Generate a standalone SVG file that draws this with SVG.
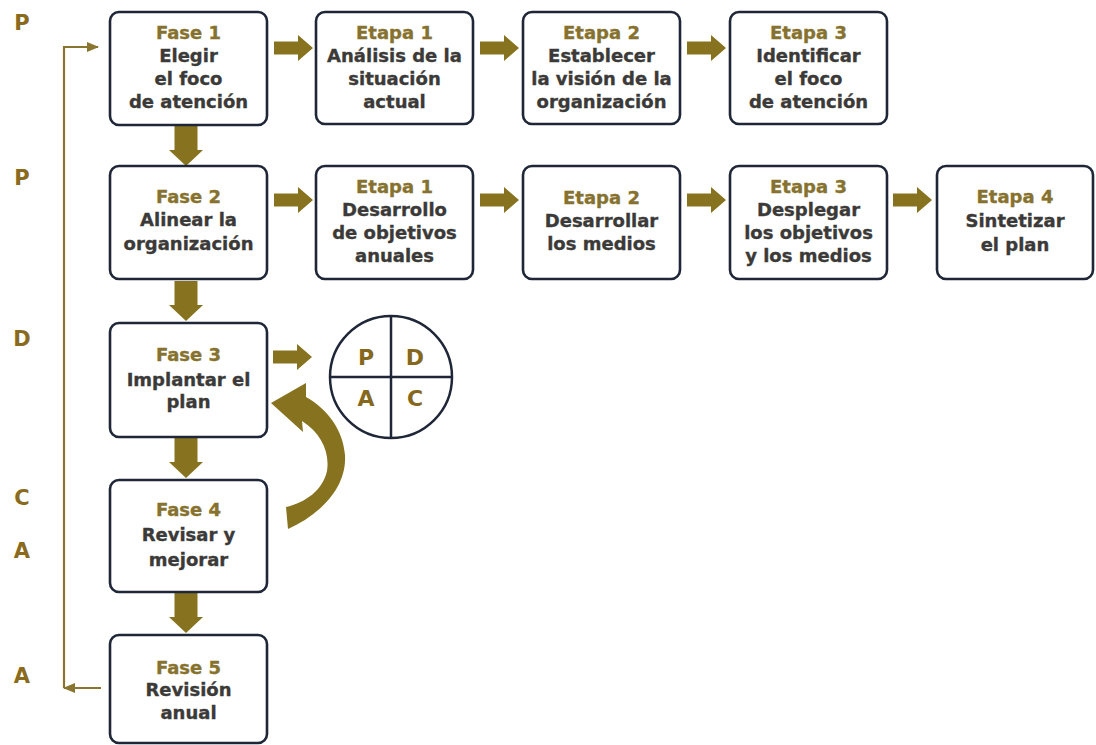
<svg xmlns="http://www.w3.org/2000/svg" xmlns:xlink="http://www.w3.org/1999/xlink" width="1096" height="745" viewBox="0 0 1096 745">
  <style>
    .box { fill: #ffffff; stroke: #1e2638; stroke-width: 2.6; }
    .ttl { font-family: "DejaVu Sans", "Liberation Sans", sans-serif; font-weight: bold; font-size: 18px; fill: #86722e; stroke: #86722e; stroke-width: 0.35; text-anchor: middle; }
    .txt { font-family: "DejaVu Sans", "Liberation Sans", sans-serif; font-weight: bold; font-size: 18px; fill: #3b3a38; stroke: #3b3a38; stroke-width: 0.35; text-anchor: middle; }
    .side { font-family: "DejaVu Sans", "Liberation Sans", sans-serif; font-weight: bold; font-size: 21px; fill: #8a6a1c; text-anchor: middle; }
    .pdca { font-family: "DejaVu Sans", "Liberation Sans", sans-serif; font-weight: bold; font-size: 22px; fill: #85681e; text-anchor: middle; }
    .fat { fill: #87731f; }
    .thin { fill: none; stroke: #8a7530; stroke-width: 2.2; }
  </style>
  <defs>
    <path id="harrow" class="fat" d="M0,-6.5 H24 V-13 L39,0 L24,13 V6.5 H0 Z"/>
    <path id="varrow" class="fat" d="M-11.5,0 V24 H-17 L0,40 L17,24 H11.5 V0 Z"/>
    <marker id="thinhead" viewBox="0 0 12 10" refX="11" refY="5" markerWidth="12" markerHeight="10" markerUnits="userSpaceOnUse" orient="auto">
      <path d="M0,0 L12,5 L0,10 Z" fill="#8a7530"/>
    </marker>
  </defs>

  <rect width="1096" height="745" fill="#ffffff"/>

  <!-- PDCA letters down the left margin -->
  <g id="side-labels">
    <text class="side" x="22" y="30">P</text>
    <text class="side" x="22" y="185">P</text>
    <text class="side" x="22" y="346">D</text>
    <text class="side" x="22" y="505">C</text>
    <text class="side" x="22" y="558">A</text>
    <text class="side" x="22" y="683">A</text>
  </g>

  <!-- connectors -->
  <g id="connectors">
    <!-- row 1 -->
    <use xlink:href="#harrow" x="274" y="48"/>
    <use xlink:href="#harrow" x="480" y="48"/>
    <use xlink:href="#harrow" x="687" y="48"/>
    <!-- row 2 -->
    <use xlink:href="#harrow" x="274" y="200"/>
    <use xlink:href="#harrow" x="480" y="200"/>
    <use xlink:href="#harrow" x="687" y="200"/>
    <use xlink:href="#harrow" x="893" y="200"/>
    <!-- phase 3 to cycle -->
    <use xlink:href="#harrow" x="273" y="357"/>
    <!-- phase to phase -->
    <use xlink:href="#varrow" x="186" y="126"/>
    <use xlink:href="#varrow" x="186" y="281"/>
    <use xlink:href="#varrow" x="186" y="438"/>
    <use xlink:href="#varrow" x="186" y="593"/>
    <!-- curved return from phase 4 to phase 3 -->
    <path class="fat" d="M288,529 C317,516 347,490 345,455 C343,429 327,409 306,397 L306,383 L271,403 L303,432 L302,421 C321,433 330,452 327,471 C323,490 305,503 286,507 Z"/>
    <!-- annual feedback loop -->
    <path class="thin" d="M101,688 H64" marker-end="url(#thinhead)"/>
    <path class="thin" d="M64,688 V47 H98" marker-end="url(#thinhead)"/>
  </g>

  <!-- phases -->
  <g id="fase1">
    <rect class="box" x="110" y="12" width="157" height="113" rx="9"/>
    <text class="ttl" x="188.5" y="39">Fase 1</text>
    <text class="txt" x="188.5" y="62">Elegir</text>
    <text class="txt" x="188.5" y="85">el foco</text>
    <text class="txt" x="188.5" y="108">de atención</text>
  </g>
  <g id="f1-etapa1">
    <rect class="box" x="316" y="12" width="157" height="112" rx="9"/>
    <text class="ttl" x="394.5" y="39">Etapa 1</text>
    <text class="txt" x="394.5" y="62">Análisis de la</text>
    <text class="txt" x="394.5" y="85">situación</text>
    <text class="txt" x="394.5" y="108">actual</text>
  </g>
  <g id="f1-etapa2">
    <rect class="box" x="523" y="12" width="157" height="112" rx="9"/>
    <text class="ttl" x="601.5" y="39">Etapa 2</text>
    <text class="txt" x="601.5" y="62">Establecer</text>
    <text class="txt" x="601.5" y="85">la visión de la</text>
    <text class="txt" x="601.5" y="108">organización</text>
  </g>
  <g id="f1-etapa3">
    <rect class="box" x="730" y="12" width="157" height="112" rx="9"/>
    <text class="ttl" x="808.5" y="39">Etapa 3</text>
    <text class="txt" x="808.5" y="62">Identificar</text>
    <text class="txt" x="808.5" y="85">el foco</text>
    <text class="txt" x="808.5" y="108">de atención</text>
  </g>

  <g id="fase2">
    <rect class="box" x="110" y="166" width="157" height="113" rx="9"/>
    <text class="ttl" x="188.5" y="203">Fase 2</text>
    <text class="txt" x="188.5" y="226">Alinear la</text>
    <text class="txt" x="188.5" y="250">organización</text>
  </g>
  <g id="f2-etapa1">
    <rect class="box" x="316" y="166" width="157" height="113" rx="9"/>
    <text class="ttl" x="394.5" y="193">Etapa 1</text>
    <text class="txt" x="394.5" y="216">Desarrollo</text>
    <text class="txt" x="394.5" y="239">de objetivos</text>
    <text class="txt" x="394.5" y="262">anuales</text>
  </g>
  <g id="f2-etapa2">
    <rect class="box" x="523" y="166" width="157" height="113" rx="9"/>
    <text class="ttl" x="601.5" y="204">Etapa 2</text>
    <text class="txt" x="601.5" y="227">Desarrollar</text>
    <text class="txt" x="601.5" y="250">los medios</text>
  </g>
  <g id="f2-etapa3">
    <rect class="box" x="730" y="166" width="157" height="113" rx="9"/>
    <text class="ttl" x="808.5" y="193">Etapa 3</text>
    <text class="txt" x="808.5" y="216">Desplegar</text>
    <text class="txt" x="808.5" y="239">los objetivos</text>
    <text class="txt" x="808.5" y="262">y los medios</text>
  </g>
  <g id="f2-etapa4">
    <rect class="box" x="937" y="166" width="156" height="113" rx="9"/>
    <text class="ttl" x="1015" y="203">Etapa 4</text>
    <text class="txt" x="1015" y="227">Sintetizar</text>
    <text class="txt" x="1015" y="251">el plan</text>
  </g>

  <g id="fase3">
    <rect class="box" x="110" y="323" width="157" height="114" rx="9"/>
    <text class="ttl" x="188.5" y="361">Fase 3</text>
    <text class="txt" x="188.5" y="386">Implantar el</text>
    <text class="txt" x="188.5" y="408">plan</text>
  </g>
  <g id="pdca-cycle">
    <circle cx="391" cy="377" r="61" fill="#ffffff" stroke="#1e2638" stroke-width="2.5"/>
    <line x1="391" y1="316" x2="391" y2="438" stroke="#1e2638" stroke-width="2.5"/>
    <line x1="330" y1="377" x2="452" y2="377" stroke="#1e2638" stroke-width="2.5"/>
    <text class="pdca" x="366" y="365">P</text>
    <text class="pdca" x="415" y="365">D</text>
    <text class="pdca" x="366" y="406">A</text>
    <text class="pdca" x="415" y="406">C</text>
  </g>
  <g id="fase4">
    <rect class="box" x="110" y="480" width="157" height="112" rx="9"/>
    <text class="ttl" x="188.5" y="516">Fase 4</text>
    <text class="txt" x="188.5" y="541">Revisar y</text>
    <text class="txt" x="188.5" y="566">mejorar</text>
  </g>
  <g id="fase5">
    <rect class="box" x="110" y="635" width="157" height="108" rx="9"/>
    <text class="ttl" x="188.5" y="674">Fase 5</text>
    <text class="txt" x="188.5" y="696">Revisión</text>
    <text class="txt" x="188.5" y="719">anual</text>
  </g>
</svg>
